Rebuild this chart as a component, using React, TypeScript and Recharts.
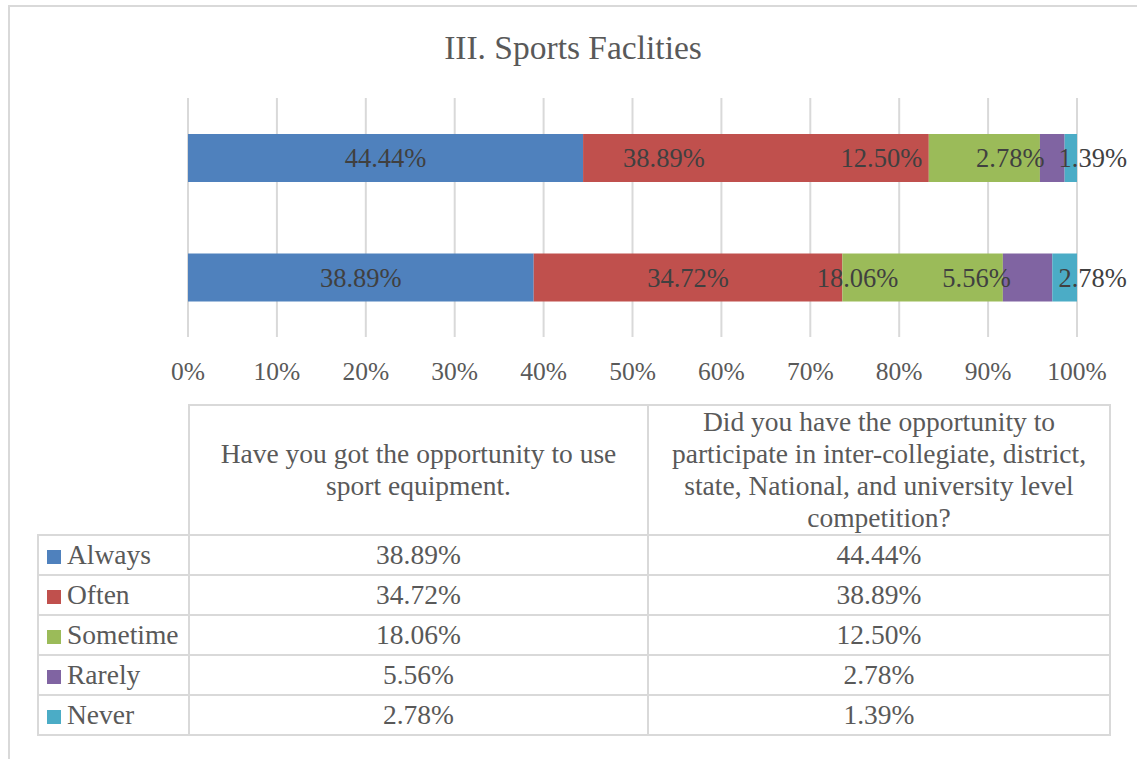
import React from 'react';
import { BarChart, Bar, XAxis, YAxis, CartesianGrid, LabelList } from 'recharts';

// questions, in table order (first one is drawn as the lower bar)
const questions = [
  'Have you got the opportunity to use sport equipment.',
  'Did you have the opportunity to participate in inter-collegiate, district, state, National, and university level competition?',
];

const answers = ['Always', 'Often', 'Sometime', 'Rarely', 'Never'];

const always = [38.89, 44.44];
const often = [34.72, 38.89];
const sometime = [18.06, 12.5];
const rarely = [5.56, 2.78];
const never = [2.78, 1.39];

const xTicks = [0, 0.1, 0.2, 0.3, 0.4, 0.5, 0.6, 0.7, 0.8, 0.9, 1];

const colors: Record<string, string> = {
  Always: '#4f81bd',
  Often: '#c0504d',
  Sometime: '#9bbb59',
  Rarely: '#8064a2',
  Never: '#4bacc6',
};

// labels in the original were dragged off-centre; shift from segment centre in px
const labelShift: Record<string, number[]> = {
  Always: [0, 0],
  Often: [0, -92],
  Sometime: [-65, -103],
  Rarely: [-51, -42],
  Never: [28, 22],
};

const seriesValues: Record<string, number[]> = {
  Always: always,
  Often: often,
  Sometime: sometime,
  Rarely: rarely,
  Never: never,
};

const data = questions.map((q, i) => ({
  question: q,
  Always: always[i],
  Often: often[i],
  Sometime: sometime[i],
  Rarely: rarely[i],
  Never: never[i],
}));

const FONT = '"Liberation Serif", "Times New Roman", serif';
const TEXT = '#595959';
const BORDER = '2px solid #d9d9d9';

const pct = (v: number) => `${Number(v).toFixed(2)}%`;

const makeLabel = (key: string) => (props: any) => {
  const { x, y, width, height, value, index } = props;
  const cx = Number(x) + Number(width) / 2 + (labelShift[key][index] ?? 0);
  const cy = Number(y) + Number(height) / 2;
  return (
    <text
      x={cx}
      y={cy}
      dy="0.34em"
      textAnchor="middle"
      fill="#404040"
      fontSize={26.5}
      fontFamily={FONT}
    >
      {pct(value)}
    </text>
  );
};

function DataTable() {
  const cell: React.CSSProperties = {
    border: BORDER,
    height: 38,
    padding: 0,
    textAlign: 'center',
    verticalAlign: 'middle',
    lineHeight: '32px',
  };
  return (
    <table
      style={{
        position: 'absolute',
        left: 37,
        top: 404,
        borderCollapse: 'collapse',
        tableLayout: 'fixed',
        fontFamily: FONT,
        fontSize: 27.5,
        color: TEXT,
      }}
    >
      <colgroup>
        <col style={{ width: 151 }} />
        <col style={{ width: 459 }} />
        <col style={{ width: 462 }} />
      </colgroup>
      <tbody>
        <tr>
          <td style={{ ...cell, border: 'none', height: 124 }} />
          {questions.map((q) => (
            <td key={q} style={{ ...cell, height: 124, padding: '0 6px' }}>
              {q}
            </td>
          ))}
        </tr>
        {answers.map((a) => (
          <tr key={a}>
            <td style={{ ...cell, textAlign: 'left', whiteSpace: 'nowrap' }}>
              <span
                style={{
                  display: 'inline-block',
                  width: 14,
                  height: 14,
                  background: colors[a],
                  marginLeft: 8,
                  marginRight: 6,
                }}
              />
              {a}
            </td>
            {seriesValues[a].map((v, i) => (
              <td key={i} style={cell}>
                {pct(v)}
              </td>
            ))}
          </tr>
        ))}
      </tbody>
    </table>
  );
}

export default function App() {
  return (
    <div
      style={{
        position: 'fixed',
        left: 0,
        top: 0,
        width: 1137,
        height: 759,
        overflow: 'hidden',
        background: '#fff',
        fontFamily: FONT,
      }}
    >
      <div
        style={{
          position: 'absolute',
          left: 8,
          top: 5,
          width: 1160,
          height: 800,
          border: BORDER,
        }}
      />
      <div
        style={{
          position: 'absolute',
          left: 0,
          top: 31,
          width: 1146,
          textAlign: 'center',
          fontSize: 33.5,
          lineHeight: 1,
          color: TEXT,
        }}
      >
        III. Sports Faclities
      </div>
      <div style={{ position: 'absolute', left: 0, top: 0 }}>
        <BarChart
          width={1137}
          height={400}
          data={data}
          layout="vertical"
          stackOffset="expand"
          barSize={48}
          margin={{ top: 98, right: 60, bottom: 23, left: 188 }}
        >
          <CartesianGrid horizontal={false} stroke="#d9d9d9" strokeWidth={2} />
          <XAxis
            type="number"
            domain={[0, 1]}
            ticks={xTicks}
            height={40}
            axisLine={false}
            tickLine={false}
            tickSize={6}
            tickMargin={19}
            interval={0}
            tickFormatter={(v) => `${Math.round(v * 100)}%`}
            tick={{ fill: TEXT, fontSize: 25.5, fontFamily: FONT }}
          />
          <YAxis type="category" dataKey="question" reversed hide />
          {answers.map((a) => (
            <Bar key={a} dataKey={a} stackId="s" fill={colors[a]} isAnimationActive={false}>
              <LabelList dataKey={a} content={makeLabel(a)} />
            </Bar>
          ))}
        </BarChart>
      </div>
      <DataTable />
    </div>
  );
}
